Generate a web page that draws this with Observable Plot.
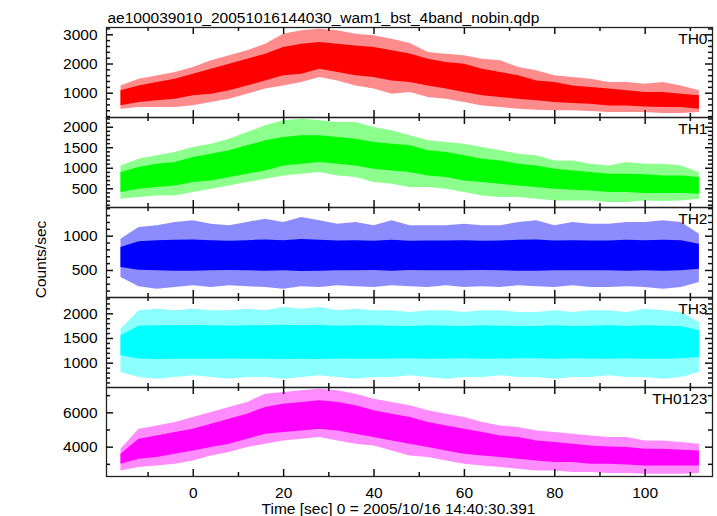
<!DOCTYPE html>
<html><head><meta charset="utf-8">
<script src="https://cdn.jsdelivr.net/npm/d3@7"></script>
<script src="https://cdn.jsdelivr.net/npm/@observablehq/plot@0.6"></script>
<style>
body{margin:0;background:#fff;}
#chart{width:717px;height:516px;overflow:hidden;background:#fff;}
#chart svg{display:block;overflow:visible;}
</style></head><body><div id="chart"></div>
<script>
const title = "ae100039010_20051016144030_wam1_bst_4band_nobin.qdp";
const xLabel = "Time [sec] 0 = 2005/10/16 14:40:30.391";
const yLabel = "Counts/sec";
const names = ["TH0", "TH1", "TH2", "TH3", "TH0123"];
const colors = ["#ff0000", "#00ff00", "#0000ff", "#00ffff", "#ff00ff"];

// sample times (sec) of envelope readings
const times = [-16,-12,-8,-4,0,4,8,12,16,20,24,28,32,36,40,44,48,52,56,60,64,68,72,76,80,84,88,92,96,100,104,108,112];

// TH0: outer extent (lo/hi) and dense core (clo/chi)
const th0Hi  = [1250,1480,1590,1710,1880,2110,2280,2450,2680,3020,3135,3190,3135,3020,2965,2850,2700,2395,2335,2280,2165,2110,1880,1765,1595,1540,1480,1365,1365,1310,1365,1250,1080];
const th0CHi = [1080,1250,1365,1480,1650,1820,1990,2165,2335,2565,2680,2735,2680,2620,2565,2450,2340,2165,2050,1995,1820,1710,1595,1420,1365,1250,1195,1140,1080,1025,1025,965,910];
const th0CLo = [570,680,740,795,910,965,1080,1250,1420,1595,1650,1820,1710,1595,1540,1420,1365,1250,1140,1025,910,850,795,740,680,645,620,565,565,530,510,510,450];
const th0Lo  = [450,510,510,510,570,680,795,965,1140,1250,1365,1540,1420,1250,1140,965,1020,850,795,680,565,510,450,420,395,395,370,340,340,340,305,305,340];

// TH1
const th1Hi  = [1058,1221,1302,1383,1505,1587,1709,1871,2034,2156,2196,2156,2115,2115,1993,1912,1790,1668,1627,1587,1505,1424,1343,1302,1180,1180,1099,1058,1139,1099,1099,1058,896];
const th1CHi = [896,1018,1099,1139,1261,1343,1424,1546,1668,1749,1790,1790,1749,1709,1627,1587,1546,1424,1383,1302,1221,1180,1099,1058,977,936,896,855,855,839,814,814,774];
const th1CLo = [408,489,530,570,652,692,774,855,936,1058,1099,1139,1099,1058,977,936,896,814,774,692,652,611,570,530,489,465,448,408,408,383,383,383,367];
const th1Lo  = [245,286,326,326,408,489,570,652,733,814,855,896,814,774,652,611,530,530,489,408,326,286,286,245,205,205,205,164,164,205,188,205,245];

// TH2
const th2Hi  = [956,1126,1151,1199,1224,1175,1151,1199,1248,1199,1272,1224,1175,1199,1151,1224,1151,1151,1151,1175,1151,1151,1199,1224,1151,1199,1175,1175,1199,1199,1224,1199,1029];
const th2CHi = [835,920,932,940,945,932,925,935,945,935,950,940,930,935,925,940,925,930,930,935,925,930,940,945,930,935,930,930,940,935,940,935,883];
const th2CLo = [543,505,495,490,490,495,500,495,490,495,485,490,495,495,500,490,500,495,495,495,500,495,490,490,495,495,495,495,490,495,490,495,519];
const th2Lo  = [397,261,227,252,276,252,276,261,252,227,261,252,276,261,252,276,261,252,276,252,261,252,276,261,252,276,252,252,261,252,227,252,325];

// TH3
const th3Hi  = [1689,2060,2094,2060,2094,2060,2060,2094,2060,2128,2094,2128,2060,2094,2060,2060,2026,2060,2060,2026,2060,2060,2026,2026,2060,2026,2060,2060,2026,2094,2060,2026,1824];
const th3CHi = [1554,1750,1760,1756,1765,1756,1750,1760,1756,1770,1760,1765,1750,1760,1756,1750,1745,1756,1750,1745,1756,1750,1745,1745,1756,1745,1750,1756,1745,1760,1750,1745,1655];
const th3CLo = [1149,1085,1075,1081,1078,1081,1085,1078,1081,1075,1078,1075,1085,1078,1081,1085,1088,1081,1085,1088,1081,1085,1088,1088,1081,1088,1085,1081,1088,1078,1081,1088,1115];
const th3Lo  = [811,710,676,710,744,710,676,710,710,676,710,744,710,676,710,710,744,710,676,710,710,744,710,710,676,710,710,744,710,710,676,710,811];

// TH0123
const thAHi  = [3879,5045,5239,5434,5725,6017,6309,6600,7086,7183,7281,7378,7281,7086,6795,6600,6406,6114,5920,5725,5434,5239,5142,4948,4851,4753,4656,4559,4559,4365,4365,4267,4170];
const thACHi = [3587,4462,4656,4851,5045,5337,5628,5920,6309,6503,6600,6697,6600,6406,6114,5920,5725,5434,5239,5045,4851,4656,4559,4365,4267,4170,4073,4015,3976,3879,3879,3820,3781];
const thACLo = [3004,3295,3393,3587,3781,3976,4170,4462,4753,4851,4948,5045,4948,4753,4559,4365,4170,3976,3781,3587,3490,3393,3295,3198,3101,3101,3004,3004,2965,2907,2907,2907,2907];
const thALo  = [2615,2810,2907,3004,3198,3490,3684,3976,4170,4365,4462,4559,4365,4170,4073,3781,3490,3393,3198,3004,2907,2810,2712,2615,2615,2518,2518,2460,2460,2421,2421,2421,2460];

// axes
const xDomain = [-19.2, 114.9];
const xMajor = [0, 20, 40, 60, 80, 100];
const xMinor = [-10, 10, 30, 50, 70, 90, 110];
const yDomains = [[168, 3250], [44, 2237], [106, 1418], [508, 2330], [2292, 7475]];
const yMajors = [[1000, 2000, 3000], [500, 1000, 1500, 2000], [500, 1000], [1000, 1500, 2000], [4000, 6000]];
const yMinorSteps = [200, 100, 100, 100, 1000];

const series = [
  [th0Lo, th0CLo, th0CHi, th0Hi],
  [th1Lo, th1CLo, th1CHi, th1Hi],
  [th2Lo, th2CLo, th2CHi, th2Hi],
  [th3Lo, th3CLo, th3CHi, th3Hi],
  [thALo, thACLo, thACHi, thAHi]
];

const font = "'Liberation Sans', Arial, Helvetica, sans-serif";
const fmt = d3.format("d");
const chart = document.getElementById("chart");
const W = 717, ML = 106, MR = 5;
const innerW = W - ML - MR;
const MAJ = 7, MIN = 4;

series.forEach((s, i) => {
  const data = times.map((t, k) => ({t, lo: s[0][k], clo: s[1][k], chi: s[2][k], hi: s[3][k]}));
  const dom = yDomains[i];
  const major = yMajors[i];
  const minor = d3.range(Math.ceil(dom[0] / yMinorSteps[i]) * yMinorSteps[i], dom[1], yMinorSteps[i]).filter(v => !major.includes(v));
  const first = i === 0, last = i === 4;
  const inner = last ? 89 : 90;
  const tk = {stroke: "#111", strokeWidth: 1.5};
  const marks = [
    Plot.areaY(data, {x: "t", y1: "lo", y2: "hi", fill: colors[i], fillOpacity: 0.45}),
    Plot.areaY(data, {x: "t", y1: "clo", y2: "chi", fill: colors[i]}),
    Plot.text([names[i]], {frameAnchor: "top-right", dx: -5, dy: 5, lineAnchor: "top", textAnchor: "end", fill: "black"}),
    Plot.axisY(major, {anchor: "left", tickSize: 0, tickPadding: 9, tickFormat: fmt, label: null}),
    Plot.frame({stroke: "#222", strokeWidth: 1.3}),
    // inward ticks: left / right
    Plot.tickY(major, {y: d => d, insetRight: innerW - MAJ, ...tk}),
    Plot.tickY(minor, {y: d => d, insetRight: innerW - MIN, ...tk}),
    Plot.tickY(major, {y: d => d, insetLeft: innerW - MAJ, ...tk}),
    Plot.tickY(minor, {y: d => d, insetLeft: innerW - MIN, ...tk}),
    // inward ticks: top / bottom
    Plot.tickX(xMajor, {x: d => d, insetBottom: inner - MAJ, ...tk}),
    Plot.tickX(xMinor, {x: d => d, insetBottom: inner - MIN, ...tk}),
    Plot.tickX(xMajor, {x: d => d, insetTop: inner - MAJ, ...tk}),
    Plot.tickX(xMinor, {x: d => d, insetTop: inner - MIN, ...tk})
  ];
  if (first) {
    marks.push(Plot.text([title], {frameAnchor: "top-left", dx: 1, dy: -4.5, lineAnchor: "bottom", textAnchor: "start", fill: "black"}));
  }
  if (i === 2) {
    marks.push(Plot.text([yLabel], {frameAnchor: "left", dx: -65, dy: 7, rotate: -90, lineAnchor: "middle", textAnchor: "middle", fill: "black"}));
  }
  if (last) {
    marks.push(Plot.axisX(xMajor, {anchor: "bottom", tickSize: 0, tickPadding: 10, tickFormat: fmt, label: null}));
    marks.push(Plot.text([xLabel], {frameAnchor: "bottom", dx: -11, dy: 37, lineAnchor: "bottom", textAnchor: "middle", fill: "black"}));
  }
  const mt = first ? 27 : 0;
  const mb = last ? 40 : 0;
  const svg = Plot.plot({
    width: W,
    height: inner + mt + mb,
    marginLeft: ML,
    marginRight: MR,
    marginTop: mt,
    marginBottom: mb,
    x: {domain: xDomain, axis: null},
    y: {domain: dom, axis: null},
    style: {fontFamily: font, fontSize: "15.5px", color: "black", background: "white", overflow: "visible"},
    marks
  });
  chart.appendChild(svg);
});
</script>
</body></html>
